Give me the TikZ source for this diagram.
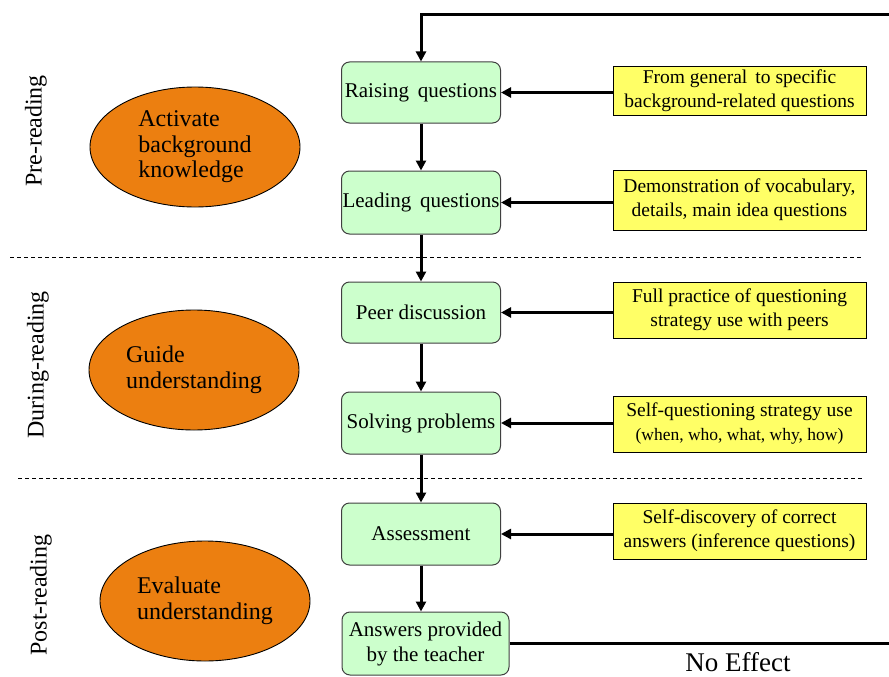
\documentclass[tikz,border=0pt]{standalone}
\usepackage{fontspec}
\setmainfont{Liberation Serif}
\usetikzlibrary{shapes.geometric,arrows.meta}
\definecolor{boxgreen}{HTML}{CCFFCC}
\definecolor{boxyellow}{HTML}{FFFF66}
\definecolor{ellorange}{HTML}{EC7F10}
\begin{document}
\begin{tikzpicture}[x={(1pt,0)},y={(0,-1pt)},
  greenbox/.style={draw=black!75,fill=boxgreen,rounded corners=8pt,line width=1pt,
    minimum width=159pt,inner sep=0pt,align=center,font=\fontsize{21}{25}\selectfont},
  yellowbox/.style={draw=black,fill=boxyellow,line width=1pt,minimum width=253pt,
    inner sep=0pt,align=center,font=\fontsize{19.5}{24}\selectfont},
  phase/.style={ellipse,draw=black,fill=ellorange,line width=0.9pt,minimum width=210pt,
    minimum height=120pt,inner sep=0pt,align=left,font=\fontsize{24}{25.5}\selectfont},
  sidelabel/.style={rotate=90,font=\fontsize{24}{26}\selectfont,inner sep=0pt},
  arr/.style={line width=3pt,-{Triangle[length=10pt,width=10pt]}},
  plain/.style={line width=3pt},
  sep/.style={line width=1pt,dash pattern=on 4pt off 3pt}]
\useasboundingbox (0,0) rectangle (889,677);

% separators
\draw[sep] (10,257) -- (862,257);
\draw[sep] (18,478) -- (862,478);

% side labels
\node[sidelabel] (lpre) at (36,131) {Pre-reading};
\node[sidelabel] (ldur) at (38,365) {During-reading};
\node[sidelabel] (lpost) at (41,595) {Post-reading};

% ellipses
\node[phase] (e1) at (195,147) {Activate\\background\\knowledge};
\node[phase] (e2) at (194,370) {Guide\\understanding};
\node[phase] (e3) at (205,601) {Evaluate\\understanding};

% green boxes
\node[greenbox,minimum height=61pt] (g1) at (421,92.5) {Raising\, questions};
\node[greenbox,minimum height=63pt] (g2) at (421,202.5) {Leading\, questions};
\node[greenbox,minimum height=61pt] (g3) at (421,312.5) {Peer discussion};
\node[greenbox,minimum height=62pt] (g4) at (421,423) {Solving problems};
\node[greenbox,minimum height=62pt] (g5) at (421,534) {Assessment};
\node[greenbox,minimum height=63pt,minimum width=167pt,anchor=west] (g6) at (341.5,643.5) {Answers provided\\by the teacher};

% yellow boxes
\node[yellowbox,minimum height=48pt] (y1) at (739.5,91) {From general\, to specific\\background-related questions};
\node[yellowbox,minimum height=60pt] (y2) at (739.5,200) {Demonstration of vocabulary,\\details, main idea questions};
\node[yellowbox,minimum height=56pt] (y3) at (739.5,310) {Full practice of questioning\\strategy use with peers};
\node[yellowbox,minimum height=56pt] (y4) at (739.5,424) {Self-questioning strategy use\\{\fontsize{17.5}{24}\selectfont (when, who, what, why, how)}};
\node[yellowbox,minimum height=56pt] (y5) at (739.5,531) {Self-discovery of correct\\answers (inference questions)};

% vertical flow
\draw[arr] (g1) -- (g2);
\draw[arr] (g2) -- (g3);
\draw[arr] (g3) -- (g4);
\draw[arr] (g4) -- (g5);
\draw[arr] (g5.south) -- (g5.south |- g6.north);

% horizontal inputs
\draw[arr] (y1.west |- g1) -- (g1.east);
\draw[arr] (y2.west |- g2) -- (g2.east);
\draw[arr] (y3.west |- g3) -- (g3.east);
\draw[arr] (y4.west |- g4) -- (g4.east);
\draw[arr] (y5.west |- g5) -- (g5.east);

% feedback lines
\coordinate (topright) at (895,15);
\coordinate (botright) at (895,643.5);
\draw[arr] (topright) -| (g1.north);
\draw[plain] (g6.east) -- (botright);
\node[font=\fontsize{27}{30}\selectfont,inner sep=0pt,anchor=base] (noeff) at (738,671) {No Effect};
\end{tikzpicture}
\end{document}
